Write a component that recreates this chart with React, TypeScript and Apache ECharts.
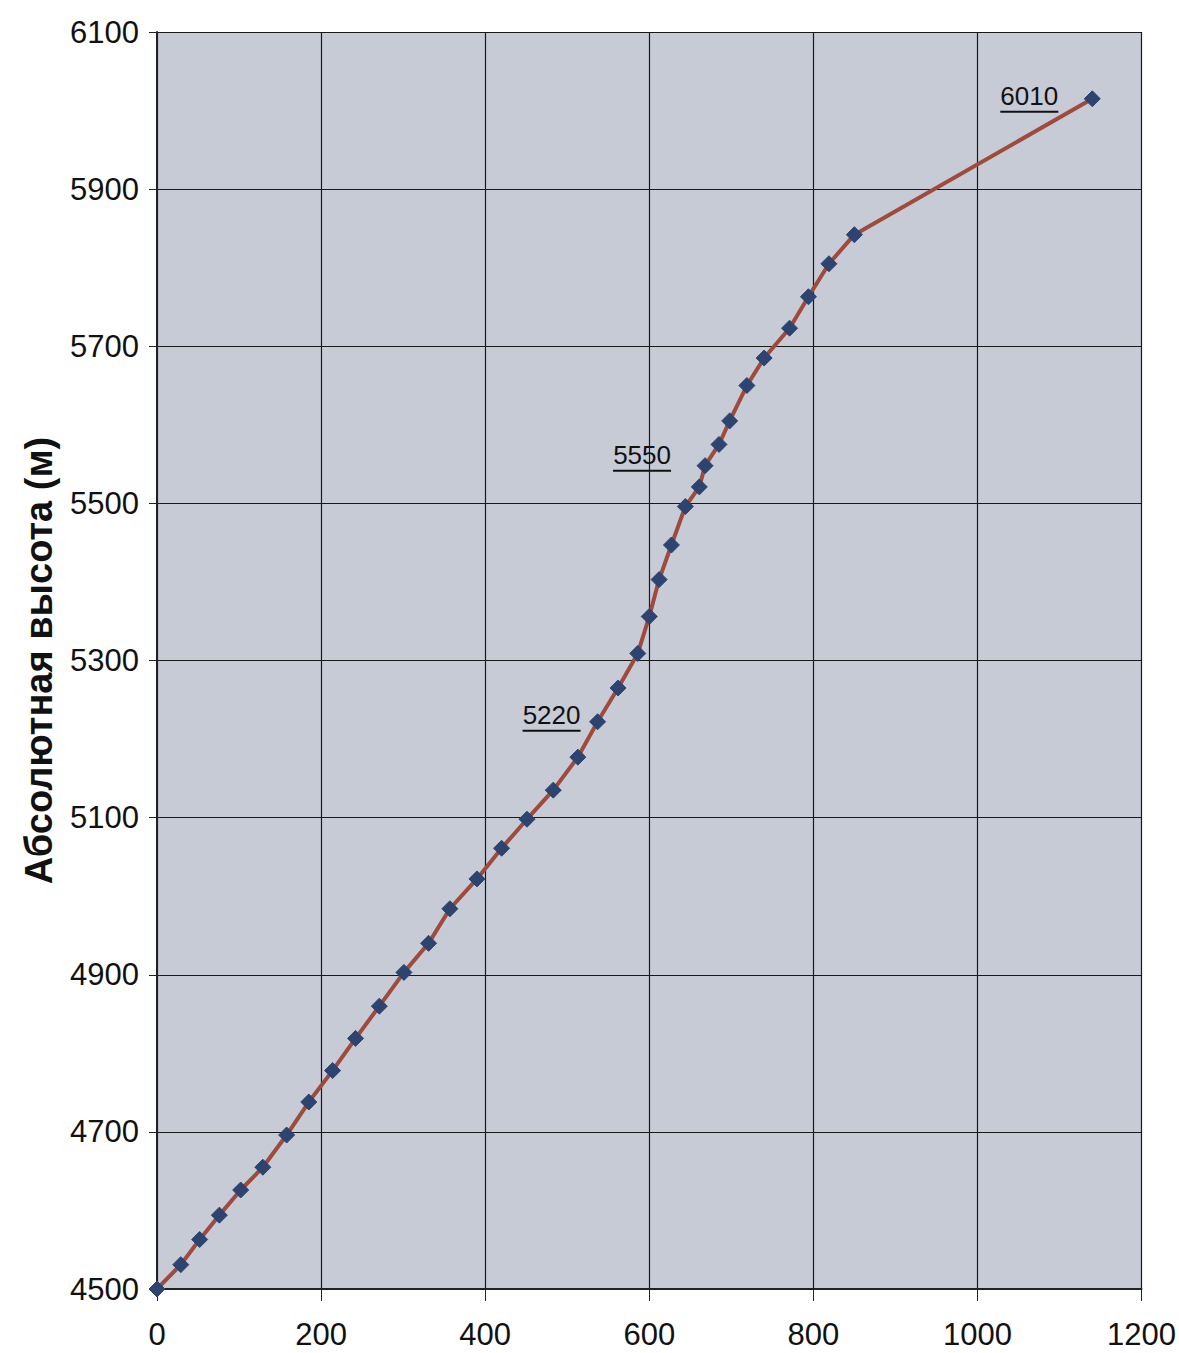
import React, { useEffect, useRef } from "react";
import * as echarts from "echarts";

const distance = [0, 29, 52, 76, 102, 129, 158, 185, 214, 242, 271, 301, 331, 357, 390, 420, 451, 483, 513, 537, 562, 586, 600, 612, 627, 644, 661, 668, 685, 698, 719, 740, 771, 794, 819, 850, 1140];
const altitude = [4500, 4531, 4563, 4594, 4626, 4655, 4696, 4738, 4778, 4819, 4860, 4903, 4940, 4984, 5022, 5061, 5098, 5135, 5177, 5222, 5265, 5309, 5356, 5403, 5447, 5496, 5521, 5548, 5575, 5605, 5650, 5685, 5723, 5763, 5805, 5842, 6015];

const annotationIndex = [19, 27, 36];
const annotationText = ["5220", "5550", "6010"];
const annotationOffset = [[-46, -5], [-63, -9], [-63, -1]];

const xTicks = { min: 0, max: 1200, interval: 200 };
const yTicks = { min: 4500, max: 6100, interval: 200 };
const yAxisTitle = "Абсолютная высота (м)";

export default function App() {
  const ref = useRef<HTMLDivElement>(null);
  useEffect(() => {
    document.body.style.margin = "0";
    const chart = echarts.init(ref.current!, null, { renderer: "svg" });
    const data = distance.map((x, i) => {
      const k = annotationIndex.indexOf(i);
      const item: any = { value: [x, altitude[i]] };
      if (k >= 0) {
        item.label = {
          show: true,
          position: "inside",
          offset: annotationOffset[k],
          formatter: "{t|" + annotationText[k] + "}\n{u|}",
          rich: {
            t: { fontSize: 26, color: "#111", fontFamily: "Liberation Sans", lineHeight: 28, align: "center" },
            u: { width: 58, height: 2, lineHeight: 3, backgroundColor: "#111" },
          },
        };
      }
      return item;
    });
    chart.setOption({
      animation: false,
      backgroundColor: "#ffffff",
      grid: {
        left: 157,
        right: 36,
        top: 32,
        bottom: 64,
        show: true,
        backgroundColor: "#c7cbd6",
        borderWidth: 0,
      },
      xAxis: {
        type: "value",
        min: xTicks.min,
        max: xTicks.max,
        interval: xTicks.interval,
        axisLine: { show: true, lineStyle: { color: "#222", width: 2 } },
        axisTick: { show: true, length: 12, inside: false, lineStyle: { color: "#222", width: 1 } },
        splitLine: { show: true, lineStyle: { color: "#1a1a1a", width: 1.2 } },
        axisLabel: { fontSize: 31, color: "#111", fontFamily: "Liberation Sans", margin: 30, formatter: (v: number) => String(v) },
      },
      yAxis: {
        type: "value",
        min: yTicks.min,
        max: yTicks.max,
        interval: yTicks.interval,
        name: yAxisTitle,
        nameLocation: "middle",
        nameGap: 99,
        nameRotate: 90,
        nameTextStyle: { fontSize: 38, fontWeight: "bold", color: "#111", fontFamily: "Liberation Sans" },
        axisLine: { show: true, lineStyle: { color: "#222", width: 2 } },
        axisTick: { show: true, length: 8, inside: false, lineStyle: { color: "#222", width: 1 } },
        splitLine: { show: true, lineStyle: { color: "#1a1a1a", width: 1.2 } },
        axisLabel: { fontSize: 31, color: "#111", fontFamily: "Liberation Sans", margin: 18, formatter: (v: number) => String(v) },
      },
      series: [
        {
          type: "line",
          data,
          smooth: false,
          symbol: "diamond",
          symbolSize: 16,
          itemStyle: { color: "#2d4370", borderColor: "#2d4370" },
          lineStyle: { color: "#9e4a3d", width: 4 },
          z: 3,
        },
      ],
    });
    return () => chart.dispose();
  }, []);
  return <div ref={ref} style={{ width: 1179, height: 1353 }} />;
}
